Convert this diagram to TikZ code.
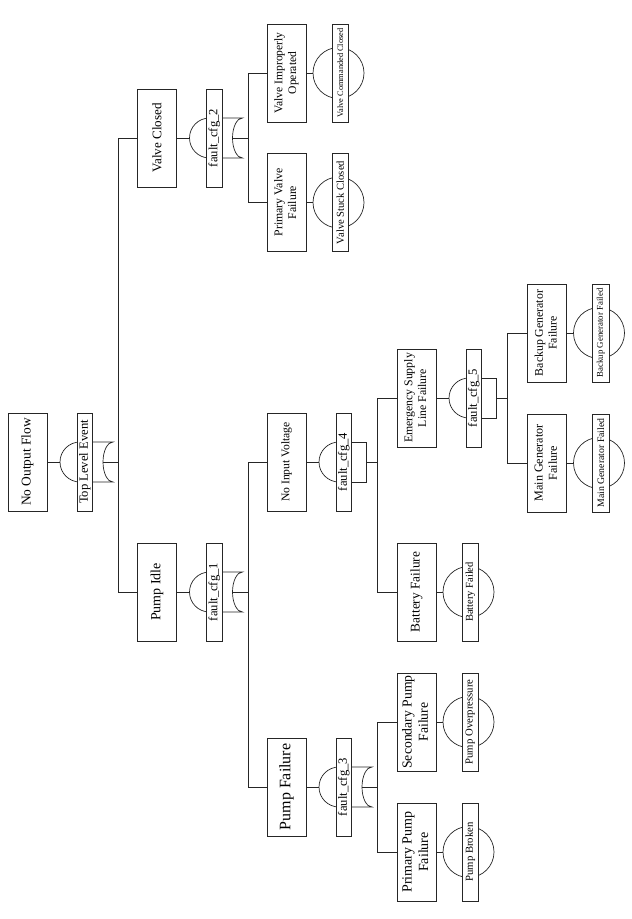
\documentclass[tikz,border=0pt]{standalone}
\usepackage{fontspec}
\setmainfont{Liberation Serif}
\newcommand\fz[2]{\fontsize{#1pt}{#2pt}\selectfont}
\newcommand\twol[2]{\begin{tabular}{@{}c@{}}#1\\#2\end{tabular}}
\tikzset{
  evbox/.style={draw=black!85, line width=0.9pt, fill=white, minimum width=39pt, minimum height=98pt, inner sep=0pt},
  glabel/.style={draw=black!85, line width=0.8pt, fill=white, minimum width=15.5pt, minimum height=98pt, inner sep=0pt},
  blabel/.style={draw=black!85, line width=0.8pt, fill=white, minimum width=16.5pt, minimum height=98pt, inner sep=0pt},
  gateline/.style={draw=black!85, line width=0.7pt},
  conn/.style={draw=black!85, line width=0.9pt},
}
% event box: name, E, cy, text
\newcommand\evnode[4]{\node[evbox] (#1) at ({#2+19.5},#3) {\rotatebox{90}{#4}};}
% OR gate: name, E, cy, label
\newcommand\orgate[4]{%
  \draw[gateline] ({#2+72},{#3-20}) arc[start angle=90,end angle=270,radius=20pt];
  \draw[gateline] ({#2+72},{#3-20}) -- ({#2+105},{#3-20}) arc[start angle=90,end angle=270,x radius=10pt,y radius=20pt] -- ({#2+72},{#3+20});
  \node[glabel] (#1) at ({#2+76.75},#3) {\rotatebox{90}{\fz{12.6}{14}#4}};
  \coordinate (#1in) at ({#2+52},#3);
  \coordinate (#1out) at ({#2+95},#3);
  \coordinate (#1bus) at ({#2+110.5},#3);
}
% AND gate
\newcommand\andgate[4]{%
  \draw[gateline] ({#2+72},{#3-20}) arc[start angle=90,end angle=270,radius=20pt];
  \draw[gateline] ({#2+72},{#3-20}) -- ({#2+99},{#3-20}) -- ({#2+99},{#3+20}) -- ({#2+72},{#3+20});
  \node[glabel] (#1) at ({#2+76.75},#3) {\rotatebox{90}{\fz{12.6}{14}#4}};
  \coordinate (#1in) at ({#2+52},#3);
  \coordinate (#1out) at ({#2+99},#3);
  \coordinate (#1bus) at ({#2+110.5},#3);
}
% basic event: name, E, cy, label (with font)
\newcommand\basicev[4]{%
  \draw[gateline] ({#2+71.5},#3) circle[radius=25.5pt];
  \node[blabel] (#1) at ({#2+73.25},#3) {\rotatebox{90}{#4}};
  \coordinate (#1in) at ({#2+46},#3);
}
\begin{document}
\begin{tikzpicture}[x=1pt,y=-1pt]
\useasboundingbox[fill=white] (0,0) rectangle (632,919);

% ---------- level 0
\evnode{top}{8}{462}{\fz{13.4}{16}No Output Flow}
\orgate{gtop}{8}{462}{Top Level Event}
\draw[conn] (top.east) -- (gtopin);
\draw[conn] (gtopout) -- (gtopbus);

% ---------- level 1
\evnode{vc}{137.5}{138}{\fz{13.1}{15.5}Valve Closed}
\orgate{g2}{137.5}{138}{fault\_cfg\_2}
\evnode{pi}{137.5}{592}{\fz{14}{16.5}Pump Idle}
\orgate{g1}{137.5}{592}{fault\_cfg\_1}
\draw[conn] (gtopbus) |- (vc.west);
\draw[conn] (gtopbus) |- (pi.west);
\draw[conn] (vc.east) -- (g2in);
\draw[conn] (g2out) -- (g2bus);
\draw[conn] (pi.east) -- (g1in);
\draw[conn] (g1out) -- (g1bus);

% ---------- level 2
\evnode{vio}{267}{73}{\fz{11.6}{13.6}\twol{Valve Improperly}{Operated}}
\basicev{vcc}{267}{73}{\fz{8.35}{10}Valve Commanded Closed}
\evnode{pvf}{267}{202.5}{\fz{11.8}{13.8}\twol{Primary Valve}{Failure}}
\basicev{vsc}{267}{202.5}{\fz{10.6}{12}Valve Stuck Closed}
\evnode{niv}{267}{462}{\fz{11.6}{14}No Input Voltage}
\andgate{g4}{267}{462}{fault\_cfg\_4}
\evnode{pf}{267}{787}{\fz{16}{19}Pump Failure}
\orgate{g3}{267}{787}{fault\_cfg\_3}
\draw[conn] (g2bus) |- (vio.west);
\draw[conn] (g2bus) |- (pvf.west);
\draw[conn] (g1bus) |- (niv.west);
\draw[conn] (g1bus) |- (pf.west);
\draw[conn] (vio.east) -- (vccin);
\draw[conn] (pvf.east) -- (vscin);
\draw[conn] (niv.east) -- (g4in);
\draw[conn] (g4out) -- (g4bus);
\draw[conn] (pf.east) -- (g3in);
\draw[conn] (g3out) -- (g3bus);

% ---------- level 3
\evnode{esl}{397}{398}{\fz{11.8}{13.6}\twol{Emergency Supply}{Line Failure}}
\andgate{g5}{397}{398}{fault\_cfg\_5}
\evnode{bf}{397}{592}{\fz{13.3}{16}Battery Failure}
\basicev{bfd}{397}{592}{\fz{10.5}{12}Battery Failed}
\evnode{spf}{397}{722}{\fz{13.7}{16.4}\twol{Secondary Pump}{Failure}}
\basicev{pop}{397}{722}{\fz{10.7}{12}Pump Overpressure}
\evnode{ppf}{397}{852}{\fz{14}{16.6}\twol{Primary Pump}{Failure}}
\basicev{pbr}{397}{852}{\fz{10.7}{12}Pump Broken}
\draw[conn] (g4bus) |- (esl.west);
\draw[conn] (g4bus) |- (bf.west);
\draw[conn] (g3bus) |- (spf.west);
\draw[conn] (g3bus) |- (ppf.west);
\draw[conn] (esl.east) -- (g5in);
\draw[conn] (g5out) -- (g5bus);
\draw[conn] (bf.east) -- (bfdin);
\draw[conn] (spf.east) -- (popin);
\draw[conn] (ppf.east) -- (pbrin);

% ---------- level 4
\evnode{bgf}{527.5}{333}{\fz{11.8}{13.8}\twol{Backup Generator}{Failure}}
\basicev{bgd}{527.5}{333}{\fz{8.85}{10}Backup Generator Failed}
\evnode{mgf}{527.5}{463}{\fz{12.1}{14.2}\twol{Main Generator}{Failure}}
\basicev{mgd}{527.5}{463}{\fz{9.8}{11}Main Generator Failed}
\draw[conn] (g5bus) |- (bgf.west);
\draw[conn] (g5bus) |- (mgf.west);
\draw[conn] (bgf.east) -- (bgdin);
\draw[conn] (mgf.east) -- (mgdin);
\end{tikzpicture}
\end{document}
